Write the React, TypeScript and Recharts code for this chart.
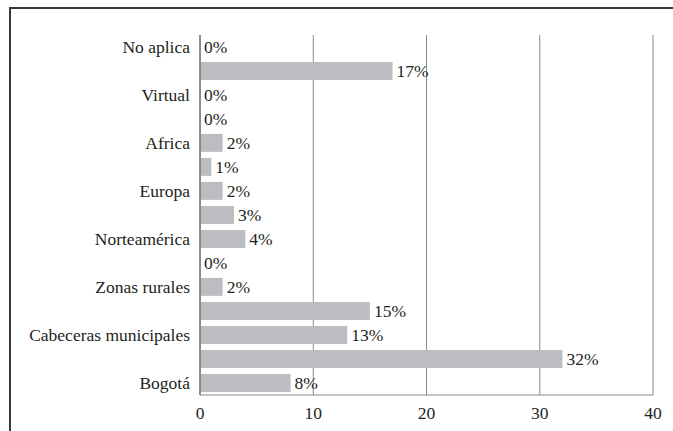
import { Bar, BarChart, CartesianGrid, LabelList, XAxis, YAxis } from "recharts";

// Rows from bottom to top, as in the source (only every other name is printed).
const CATEGORIES = [
  "Bogotá", "Otras capitales", "Cabeceras municipales", "Municipios", "Zonas rurales",
  "Veredas", "Norteamérica", "Centroamérica", "Europa", "Suramérica", "Africa",
  "Asia", "Virtual", "Otro", "No aplica",
];
const VALUES = [8, 32, 13, 15, 2, 0, 4, 3, 2, 1, 2, 0, 0, 17, 0];
const X_TICKS = [0, 10, 20, 30, 40];

const FONT = "'Times New Roman', 'Liberation Serif', serif";
const INK = "#231F20";

export default function App() {
  const data = CATEGORIES.map((name, i) => ({ name, value: VALUES[i] }));

  return (
    <div style={{ position: "absolute", left: 0, top: 0, width: 673, height: 431, background: "#fff", overflow: "hidden", fontFamily: FONT }}>
      <div
        style={{
          position: "absolute", left: 9, top: 7, width: 700, height: 460,
          borderTop: "2px solid #3a3a3a", borderLeft: "2px solid #3a3a3a",
        }}
      />
      <div style={{ position: "absolute", left: 0, top: 0 }}>
        <BarChart
          width={673}
          height={431}
          data={data}
          layout="vertical"
          margin={{ top: 35, right: 20, bottom: 6, left: 10 }}
          barCategoryGap="12%"
          style={{ fontFamily: FONT }}
        >
          <CartesianGrid horizontal={false} stroke="#8a8a8a" />
          <XAxis
            type="number"
            domain={[0, 40]}
            ticks={X_TICKS}
            height={30}
            axisLine={{ stroke: "#8a8a8a" }}
            tickLine={false}
            tickMargin={6}
            tick={{ fill: INK, fontSize: 17.5, fontFamily: FONT }}
          />
          <YAxis
            type="category"
            dataKey="name"
            reversed
            width={190}
            interval={1}
            axisLine={{ stroke: "#555" }}
            tickLine={false}
            tickMargin={4}
            tick={{ fill: INK, fontSize: 17.5, fontFamily: FONT }}
          />
          <Bar dataKey="value" fill="#BCBDC0" minPointSize={0.1} isAnimationActive={false}>
            <LabelList
              dataKey="value"
              position="right"
              offset={4}
              formatter={(v: number) => `${v}%`}
              fill={INK}
              fontSize={17.5}
              fontFamily={FONT}
            />
          </Bar>
        </BarChart>
      </div>
    </div>
  );
}
